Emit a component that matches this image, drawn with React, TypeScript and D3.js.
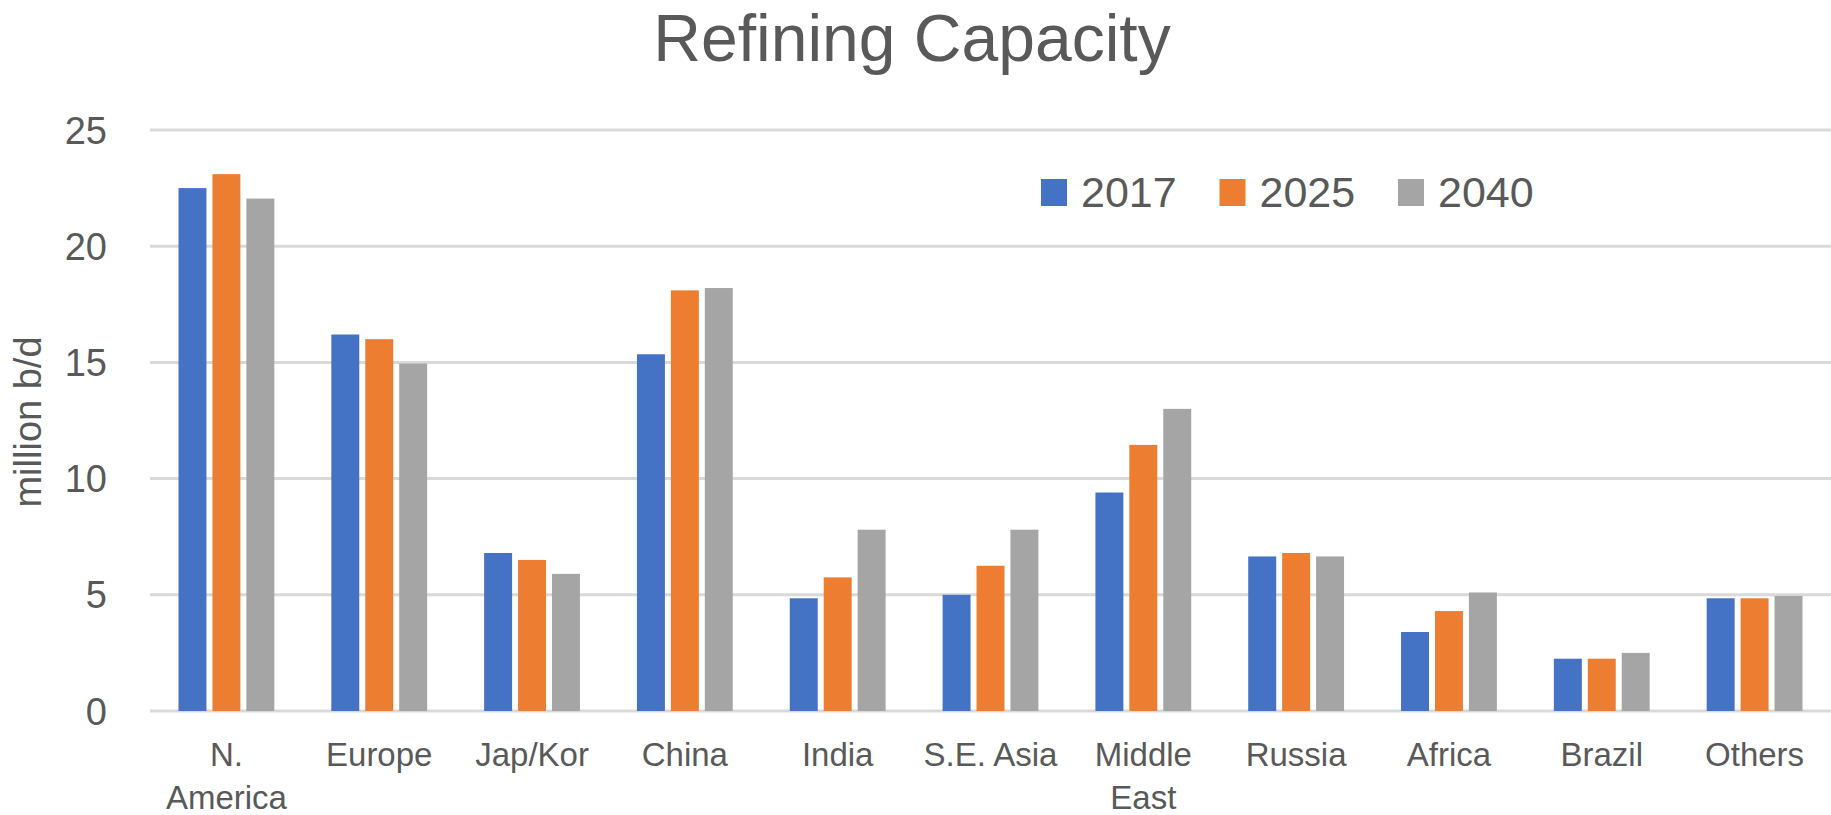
import React from 'react';
import * as d3 from 'd3';

const width = 1831;
const height = 815;
const font = '"Liberation Sans", Arial, sans-serif';
const textColor = '#595959';

const regions = ['N. America', 'Europe', 'Jap/Kor', 'China', 'India', 'S.E. Asia', 'Middle East', 'Russia', 'Africa', 'Brazil', 'Others'];
const years = ['2017', '2025', '2040'];
const values2017 = [22.5, 16.2, 6.8, 15.35, 4.85, 5.0, 9.4, 6.65, 3.4, 2.25, 4.85];
const values2025 = [23.1, 16.0, 6.5, 18.1, 5.75, 6.25, 11.45, 6.8, 4.3, 2.25, 4.85];
const values2040 = [22.05, 14.95, 5.9, 18.2, 7.8, 7.8, 13.0, 6.65, 5.1, 2.5, 4.95];
const yTicks = [0, 5, 10, 15, 20, 25];
const colors = ['#4472C4', '#ED7D31', '#A5A5A5'];

const series = [values2017, values2025, values2040];

const margin = { left: 150, right: 0, top: 130, bottom: 104 };

// rough text measuring, used to wrap the category labels like Excel does
const measure = (() => {
	const ctx = document.createElement('canvas').getContext('2d');
	return (text: string, size: number) => {
		if (!ctx) return text.length * size * 0.5;
		ctx.font = `${size}px ${font}`;
		return ctx.measureText(text).width;
	};
})();

const wrapLabel = (label: string, maxWidth: number, size: number) => {
	if (measure(label, size) <= maxWidth) return [label];
	const words = label.split(' ');
	const lines: string[] = [];
	let current = '';
	words.forEach((w) => {
		const next = current ? `${current} ${w}` : w;
		if (current && measure(next, size) > maxWidth) {
			lines.push(current);
			current = w;
		} else {
			current = next;
		}
	});
	if (current) lines.push(current);
	return lines;
};

export default function App() {
	const x = d3.scaleBand()
		.domain(regions)
		.range([margin.left, width - margin.right])
		.paddingInner(0.373)
		.paddingOuter(0.1865);

	const inner = d3.scaleBand()
		.domain(years)
		.range([0, x.bandwidth()])
		.paddingInner(0.176);

	const y = d3.scaleLinear()
		.domain([0, 25])
		.range([height - margin.bottom, margin.top]);

	const labelSize = 33;
	const tickSize = 38;
	const step = x.step();

	return (
		<div style={{ position: 'absolute', left: 0, top: 0 }}>
			<svg width={width} height={height} style={{ display: 'block', background: '#fff' }}>
				<text x={912} y={61} textAnchor="middle" fontFamily={font} fontSize={66} fill={textColor}>
					Refining Capacity
				</text>

				<g className="grid">
					{yTicks.map((t) => (
						<line key={t} x1={margin.left} x2={width - margin.right} y1={y(t)} y2={y(t)} stroke="#d9d9d9" strokeWidth={3} />
					))}
				</g>

				<g className="y-axis">
					{yTicks.map((t) => (
						<text key={t} x={107} y={y(t) + 13.5} textAnchor="end" fontFamily={font} fontSize={tickSize} fill={textColor}>
							{t}
						</text>
					))}
					<text
						transform={`translate(41,422)rotate(-90)`}
						textAnchor="middle"
						fontFamily={font}
						fontSize={tickSize}
						fill={textColor}>
						million b/d
					</text>
				</g>

				<g className="bars">
					{series.map((vals, si) => (
						<g key={years[si]} fill={colors[si]}>
							{regions.map((r, i) => (
								<rect
									key={r}
									x={(x(r) ?? 0) + (inner(years[si]) ?? 0)}
									y={y(vals[i])}
									width={inner.bandwidth()}
									height={y(0) - y(vals[i])}
								/>
							))}
						</g>
					))}
				</g>

				<g className="x-axis">
					{regions.map((r) => {
						const cx = (x(r) ?? 0) + x.bandwidth() / 2;
						const lines = wrapLabel(r, step, labelSize);
						return (
							<text key={r} x={cx} y={y(0) + 55} textAnchor="middle" fontFamily={font} fontSize={labelSize} fill={textColor}>
								{lines.map((l, li) => (
									<tspan key={li} x={cx} dy={li === 0 ? 0 : 43}>{l}</tspan>
								))}
							</text>
						);
					})}
				</g>

				<g className="legend">
					{years.map((yr, i) => (
						<g key={yr} transform={`translate(${1041 + i * 178.5},179)`}>
							<rect width={26} height={27} fill={colors[i]} />
							<text x={40} y={28} fontFamily={font} fontSize={43} fill={textColor}>{yr}</text>
						</g>
					))}
				</g>
			</svg>
		</div>
	);
}
